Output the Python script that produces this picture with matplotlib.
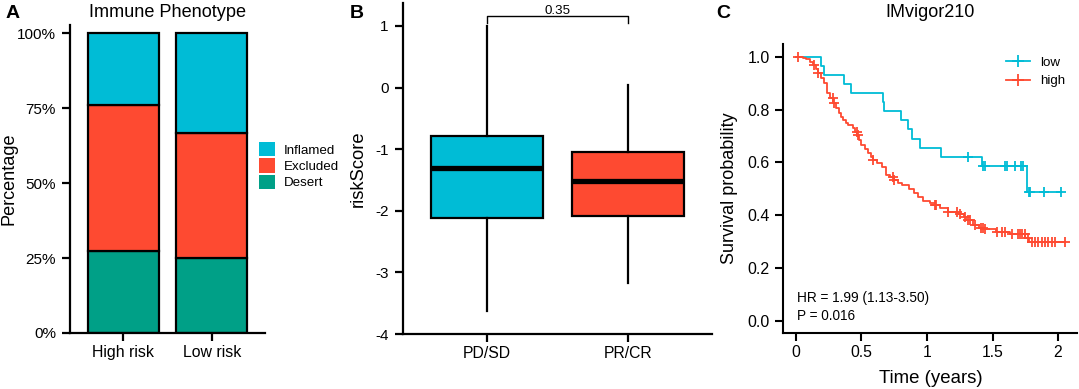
import numpy as np
import matplotlib
matplotlib.use("Agg")
import matplotlib.pyplot as plt
from matplotlib.patches import Patch
from matplotlib.lines import Line2D

plt.rcParams['font.family'] = ['Liberation Sans', 'DejaVu Sans']
plt.rcParams['axes.unicode_minus'] = False

# ---------------- data ----------------
# Panel A: immune phenotype proportions
groups_a = ["High risk", "Low risk"]
phenotypes = ["Desert", "Excluded", "Inflamed"]
desert = [0.275, 0.25]
excluded = [0.485, 0.417]
inflamed = [0.24, 0.333]
yticks_a = [0, 0.25, 0.5, 0.75, 1.0]
yticklabels_a = ["0%", "25%", "50%", "75%", "100%"]

# Panel B: riskScore box plots
groups_b = ["PD/SD", "PR/CR"]
b_med = [-1.30, -1.51]
b_q1 = [-2.12, -2.08]
b_q3 = [-0.78, -1.05]
b_lo = [-3.62, -3.18]
b_hi = [1.00, 0.05]
p_value_b = "0.35"

# Panel C: Kaplan-Meier curves (IMvigor210)
low_t = [0, 0.188, 0.214, 0.369, 0.42, 0.667, 0.675, 0.80, 0.855, 0.883, 0.945, 1.11, 1.42, 1.76, 2.02]
low_s = [1.0, 0.966, 0.931, 0.896, 0.862, 0.827, 0.793, 0.759, 0.725, 0.690, 0.656, 0.621, 0.586, 0.486, 0.486]
low_cens = [1.31, 1.43, 1.445, 1.595, 1.61, 1.67, 1.72, 1.735, 1.776, 1.786, 1.896, 2.02]

high_t = [0, 0.05, 0.08, 0.11, 0.13, 0.15, 0.17, 0.19, 0.21, 0.235, 0.26, 0.285, 0.305, 0.325,
          0.345, 0.36, 0.38, 0.40, 0.437, 0.45, 0.465, 0.48, 0.50, 0.525, 0.55, 0.57, 0.59, 0.62,
          0.655, 0.69, 0.72, 0.745, 0.78, 0.81, 0.86, 0.90, 0.93, 0.97, 1.02, 1.06, 1.10, 1.16,
          1.24, 1.28, 1.30, 1.35, 1.40, 1.44, 1.53, 1.63, 1.75, 1.775, 2.05]
high_s = [1.0, 0.995, 0.99, 0.98, 0.969, 0.955, 0.937, 0.918, 0.899, 0.861, 0.842, 0.823, 0.805,
          0.786, 0.772, 0.760, 0.750, 0.741, 0.729, 0.716, 0.703, 0.685, 0.666, 0.650, 0.634, 0.621,
          0.609, 0.596, 0.583, 0.552, 0.543, 0.533, 0.523, 0.514, 0.498, 0.482, 0.468, 0.455, 0.446,
          0.438, 0.428, 0.413, 0.404, 0.392, 0.381, 0.362, 0.352, 0.347, 0.337, 0.328, 0.312, 0.299, 0.299]
high_cens = [0.012, 0.135, 0.17, 0.283, 0.29, 0.463, 0.47, 0.59, 0.74, 0.75, 1.06, 1.07, 1.163,
             1.23, 1.25, 1.29, 1.31, 1.33, 1.37, 1.41, 1.43, 1.443, 1.532, 1.57, 1.596, 1.647,
             1.697, 1.71, 1.723, 1.748, 1.773, 1.80, 1.825, 1.85, 1.876, 1.90, 1.927, 1.953, 1.98, 2.05]
hr_text = "HR = 1.99 (1.13-3.50)"
p_text = "P = 0.016"

# ---------------- style ----------------
CYAN = "#00BCD6"
RED = "#FE4A31"
TEAL = "#00A087"
W, H = 1079, 389
LW = 1.6

fig = plt.figure(figsize=(W / 100, H / 100), dpi=100)


def fx(px):
    return px / W


def fy(py):
    return 1 - py / H


def style_axes(ax, lw=LW):
    for s in ["top", "right"]:
        ax.spines[s].set_visible(False)
    for s in ["left", "bottom"]:
        ax.spines[s].set_linewidth(lw)
    ax.tick_params(length=5.5, width=lw, color="black", labelcolor="black")


# ---------------- Panel A ----------------
axA = fig.add_axes([fx(70), fy(333), fx(195), 308 / H])
style_axes(axA)
xa = np.arange(len(groups_a))
axA.bar(xa, desert, width=0.8, color=TEAL, edgecolor="black", linewidth=LW)
axA.bar(xa, excluded, width=0.8, bottom=desert, color=RED, edgecolor="black", linewidth=LW)
axA.bar(xa, inflamed, width=0.8, bottom=np.add(desert, excluded), color=CYAN,
        edgecolor="black", linewidth=LW)
axA.set_xlim(-0.6, 1.6)
axA.set_ylim(0, 1.027)
axA.set_yticks(yticks_a)
axA.set_yticklabels(yticklabels_a, fontsize=11)
axA.set_xticks(xa)
axA.set_xticklabels(groups_a, fontsize=11.4)
axA.tick_params(axis="y", pad=4.5)
axA.tick_params(axis="x", pad=3)
fig.text(fx(167.5), fy(17.3), "Immune Phenotype", ha="center", va="baseline", fontsize=13.1)
fig.text(fx(9.5), fy(179), "Percentage", rotation=90, ha="center", va="center", fontsize=13.1)
fig.text(fx(13), fy(14), "A", ha="center", va="center", fontsize=14, fontweight="bold")

legA = fig.legend(
    handles=[Patch(facecolor=CYAN, edgecolor="none"),
             Patch(facecolor=RED, edgecolor="none"),
             Patch(facecolor=TEAL, edgecolor="none")],
    labels=["Inflamed", "Excluded", "Desert"],
    loc="upper left", bbox_to_anchor=(fx(259), fy(142)), bbox_transform=fig.transFigure,
    frameon=False, borderpad=0, borderaxespad=0, fontsize=9.6, handlelength=1.2,
    handleheight=1.25, labelspacing=0.14, handletextpad=0.65)

# ---------------- Panel B ----------------
axB = fig.add_axes([fx(403), fy(334), fx(309), 331 / H])
style_axes(axB)
stats = []
for i in range(len(groups_b)):
    stats.append(dict(med=b_med[i], q1=b_q1[i], q3=b_q3[i], whislo=b_lo[i], whishi=b_hi[i],
                      fliers=[], label=groups_b[i]))
bp = axB.bxp(stats, positions=[0, 1], widths=0.8, patch_artist=True, showcaps=False,
             showfliers=False,
             boxprops=dict(linewidth=LW, edgecolor="black"),
             medianprops=dict(color="black", linewidth=3.8, solid_capstyle="butt"),
             whiskerprops=dict(linewidth=LW, color="black"))
for patch, c in zip(bp["boxes"], [CYAN, RED]):
    patch.set_facecolor(c)
axB.set_xlim(-0.6, 1.6)
axB.set_ylim(-4, 1.373)
axB.set_yticks([-4, -3, -2, -1, 0, 1])
axB.set_yticklabels(["-4", "-3", "-2", "-1", "0", "1"], fontsize=11)
axB.set_xticks([0, 1])
axB.set_xticklabels(groups_b, fontsize=11.3)
axB.tick_params(axis="y", pad=5)
axB.tick_params(axis="x", pad=3)
axB.plot([0, 0, 1, 1], [1.045, 1.157, 1.157, 1.045], color="black", linewidth=1.0,
         clip_on=False)
axB.text(0.5, 1.196, p_value_b, ha="center", va="baseline", fontsize=9.6)
fig.text(fx(358), fy(168.5), "riskScore", rotation=90, ha="center", va="center", fontsize=13.2)
fig.text(fx(357), fy(13), "B", ha="center", va="center", fontsize=14, fontweight="bold")

# ---------------- Panel C ----------------
axC = fig.add_axes([fx(782.7), fy(333.3), fx(294.3), 289 / H])
style_axes(axC, lw=1.5)
for t, s, cens, col in [(low_t, low_s, low_cens, CYAN), (high_t, high_s, high_cens, RED)]:
    axC.step(t, s, where="post", color=col, linewidth=1.3, clip_on=False)
    idx = np.searchsorted(t, cens, side="right") - 1
    axC.plot(cens, np.asarray(s)[idx], linestyle="none", marker="+", markersize=6.5,
             markeredgewidth=1.3, color=col, clip_on=False)
axC.set_xlim(-0.1015, 2.145)
axC.set_ylim(-0.0477, 1.047)
axC.set_yticks([0, 0.2, 0.4, 0.6, 0.8, 1.0])
axC.set_yticklabels(["0.0", "0.2", "0.4", "0.6", "0.8", "1.0"], fontsize=11.5)
axC.set_xticks([0, 0.5, 1, 1.5, 2])
axC.set_xticklabels(["0", "0.5", "1", "1.5", "2"], fontsize=11.3)
axC.tick_params(axis="y", pad=4)
axC.tick_params(axis="x", pad=3)
fig.text(fx(930), fy(17.3), "IMvigor210", ha="center", va="baseline", fontsize=13)
fig.text(fx(729.5), fy(188.5), "Survival probability", rotation=90, ha="center", va="center",
         fontsize=13)
fig.text(fx(930.5), fy(383.3), "Time (years)", ha="center", va="baseline", fontsize=13.4)
fig.text(fx(723.5), fy(14), "C", ha="center", va="center", fontsize=14, fontweight="bold")
fig.text(fx(797), fy(301.7), hr_text, ha="left", va="baseline", fontsize=9.8)
fig.text(fx(797), fy(320.3), p_text, ha="left", va="baseline", fontsize=9.8)

legC = fig.legend(
    handles=[Line2D([], [], color=CYAN, linewidth=1.3, marker="+", markersize=8, markeredgewidth=1.3),
             Line2D([], [], color=RED, linewidth=1.3, marker="+", markersize=8, markeredgewidth=1.3)],
    labels=["low", "high"],
    loc="upper left", bbox_to_anchor=(fx(1006), fy(56.5)), bbox_transform=fig.transFigure,
    frameon=False, borderpad=0, borderaxespad=0, fontsize=9.6, handlelength=1.8,
    labelspacing=0.45, handletextpad=0.75)

fig.savefig("out.png", dpi=100)
